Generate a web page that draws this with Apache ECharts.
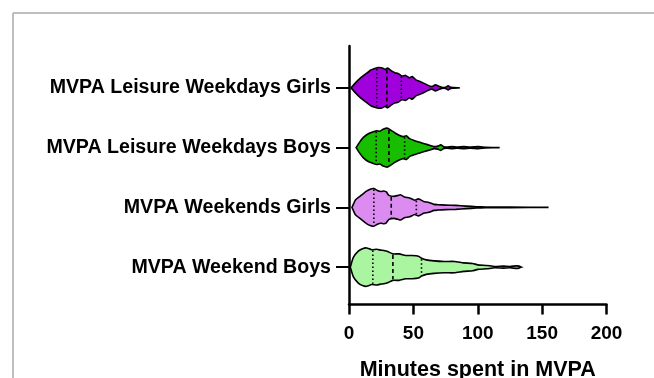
<!DOCTYPE html>
<html>
<head>
<meta charset="utf-8">
<script src="https://cdn.jsdelivr.net/npm/echarts@6/dist/echarts.min.js"></script>
<style>html,body{margin:0;padding:0;background:#fff}#c{width:654px;height:378px}</style>
</head>
<body>
<div id="c"></div>
<script>
// Categories (bottom to top)
var categories = ['MVPA Weekend Boys', 'MVPA Weekends Girls', 'MVPA Leisure Weekdays Boys', 'MVPA Leisure Weekdays Girls'];
var xTicks = [0, 50, 100, 150, 200];

// Kernel density outlines: minutes and relative density (half-width)
var boysWeekendX = [1, 3.3, 7.2, 11, 13.8, 17.6, 21.5, 25, 27, 30, 34, 39, 44, 49, 54, 56.3, 60, 66, 74, 82, 89, 96, 100, 107, 113, 120, 125, 130, 132, 134];
var boysWeekendD = [0, 9.5, 16, 18.8, 19.2, 17.5, 17.9, 17, 16.7, 15.7, 13.3, 13.3, 11.7, 11.7, 11, 9, 7.3, 6.3, 5.7, 5.7, 4.3, 3.7, 2.3, 1.7, 0.7, 1, 0.7, 1.3, 1, 0];
var boysWeekendQ = [18.5, 34.1, 56.3];

var girlsWeekendX = [2.3, 5, 9.4, 13.3, 17, 19.3, 22, 25, 27, 29, 31, 35, 38, 40, 43, 47, 51, 54, 58, 62, 66, 69, 75, 83, 91, 99, 106, 113, 125, 155];
var girlsWeekendD = [0, 7.5, 12, 16, 18.5, 18.9, 17, 16, 16.5, 15.5, 12, 11, 12, 12.7, 10.5, 9.5, 7.2, 8.5, 6, 5, 3, 2.7, 2.3, 2, 1.3, 0.7, 0.4, 0.4, 0.3, 0];
var girlsWeekendQ = [19.3, 32.8, 52.3];

var boysWeekdayX = [5.5, 8, 11, 15, 19, 21.5, 24, 26.5, 30, 33, 36, 39, 42, 44.5, 47, 51, 56, 61, 66, 69, 71.3, 73.5, 76, 80, 84, 89, 94, 100.5, 106, 117];
var boysWeekdayD = [0, 5, 10, 14, 16, 17, 16.5, 18.5, 19.5, 17, 14.5, 12.5, 11, 12, 9, 7, 5, 3, 1, 1.5, 2.8, 1, 0.5, 1, 0.5, 1, 0.5, 1, 0.4, 0];
var boysWeekdayQ = [21.1, 31, 43.2];

var girlsWeekdayX = [1.6, 5, 9, 13, 17, 20, 23, 26, 28, 30, 33, 36, 38, 41, 44, 47, 49, 52, 56, 60, 63, 65, 67, 70, 72, 75, 77, 79, 86];
var girlsWeekdayD = [0, 5, 10, 14, 18, 19.5, 20.5, 20, 18.5, 20, 17, 15, 14.5, 12, 12.5, 10, 11.5, 8, 6, 3.5, 1.5, 1.5, 3, 1.5, 0.5, 0.5, 2, 0.5, 0];
var girlsWeekdayQ = [21.6, 29.4, 40.6];

var fills = ['#aaf5a0', '#dc8cf0', '#17be00', '#a000dc'];

var violins = [
  {x: boysWeekendX, d: boysWeekendD, q: boysWeekendQ},
  {x: girlsWeekendX, d: girlsWeekendD, q: girlsWeekendQ},
  {x: boysWeekdayX, d: boysWeekdayD, q: boysWeekdayQ},
  {x: girlsWeekdayX, d: girlsWeekdayD, q: girlsWeekdayQ}
];
var DSCALE = 1 / 60; // density unit -> fraction of category band

function interp(xs, ds, v) {
  for (var i = 0; i < xs.length - 1; i++) {
    if (v >= xs[i] && v <= xs[i + 1]) {
      var t = (v - xs[i]) / (xs[i + 1] - xs[i]);
      return ds[i] + t * (ds[i + 1] - ds[i]);
    }
  }
  return 0;
}

var FONT = '"Liberation Sans", Arial, sans-serif';
var chart = echarts.init(document.getElementById('c'), null, {renderer: 'canvas'});

chart.setOption({
  animation: false,
  backgroundColor: '#fff',
  grid: [
    {left: 349, right: 47.5, top: 46, bottom: 73.5, containLabel: false, outerBoundsMode: 'none'},
    {left: 349, right: 47.5, top: 58, bottom: 81, containLabel: false, outerBoundsMode: 'none'}
  ],
  xAxis: [
    {
      gridIndex: 0, type: 'value', min: 0, max: 200, interval: 50,
      axisLine: {show: true, lineStyle: {color: '#000', width: 2.5}},
      axisTick: {show: true, length: 10, lineStyle: {color: '#000', width: 2.5}},
      axisLabel: {color: '#000', fontSize: 19, fontWeight: 'bold', fontFamily: FONT, margin: 20},
      splitLine: {show: false},
      name: 'Minutes spent in MVPA', nameLocation: 'middle', nameGap: 55,
      nameTextStyle: {color: '#000', fontSize: 21.5, fontWeight: 'bold', fontFamily: FONT}
    },
    {gridIndex: 1, type: 'value', min: 0, max: 200, show: false}
  ],
  yAxis: [
    {
      gridIndex: 0, type: 'value', min: 0, max: 1,
      axisLine: {show: true, lineStyle: {color: '#000', width: 2.5}},
      axisTick: {show: false}, axisLabel: {show: false}, splitLine: {show: false}
    },
    {
      gridIndex: 1, type: 'category', data: categories,
      axisLine: {show: false},
      axisTick: {show: true, alignWithLabel: true, length: 13, lineStyle: {color: '#000', width: 2}},
      axisLabel: {color: '#000', fontSize: 19.6, fontWeight: 'bold', fontFamily: FONT, margin: 18},
      splitLine: {show: false}
    }
  ],
  graphic: [
    {type: 'line', shape: {x1: 13, y1: 13, x2: 654, y2: 13}, style: {stroke: '#a8a8a8', lineWidth: 1.5}},
    {type: 'line', shape: {x1: 13, y1: 13, x2: 13, y2: 378}, style: {stroke: '#a8a8a8', lineWidth: 1.5}}
  ],
  series: [{
    type: 'custom',
    xAxisIndex: 1, yAxisIndex: 1,
    data: [0, 1, 2, 3].map(function (i) { return [i]; }),
    renderItem: function (params, api) {
      var ci = api.value(0);
      var v = violins[ci];
      var band = api.size([0, 1])[1];
      var top = [], bot = [];
      for (var i = 0; i < v.x.length; i++) {
        var p = api.coord([v.x[i], ci]);
        var h = v.d[i] * DSCALE * band;
        top.push([p[0], p[1] - h]);
        bot.unshift([p[0], p[1] + h]);
      }
      var children = [{
        type: 'polygon',
        shape: {points: top.concat(bot), smooth: 0.15},
        style: {fill: fills[ci], stroke: '#000', lineWidth: 1.6}
      }];
      v.q.forEach(function (qv, k) {
        var p = api.coord([qv, ci]);
        var h = interp(v.x, v.d, qv) * DSCALE * band - 1;
        children.push({
          type: 'line',
          shape: {x1: p[0], y1: p[1] - h, x2: p[0], y2: p[1] + h},
          style: {stroke: '#000', lineWidth: 1.6, lineDash: k === 1 ? [4, 3] : [1.5, 2.5]}
        });
      });
      return {type: 'group', children: children};
    }
  }]
});
</script>
</body>
</html>
